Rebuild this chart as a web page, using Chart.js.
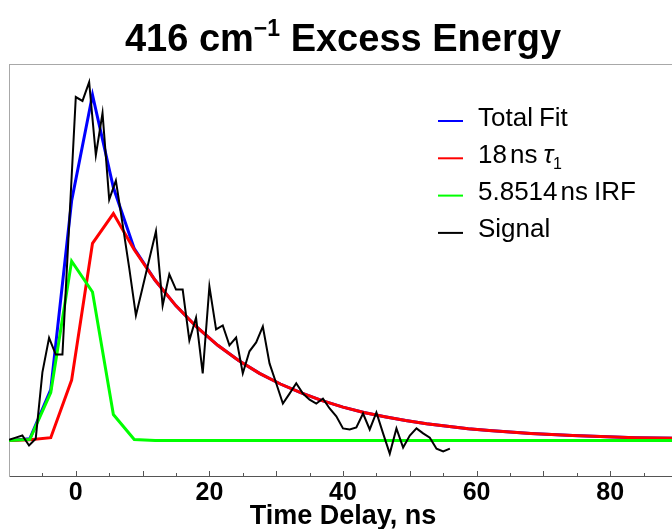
<!DOCTYPE html>
<html>
<head>
<meta charset="utf-8">
<script src="https://cdn.jsdelivr.net/npm/chart.js@4"></script>
<style>
  html, body { margin: 0; padding: 0; background: #fff; overflow: hidden; }
  canvas { display: block; }
</style>
</head>
<body>
<canvas id="decayChart" width="682" height="529"></canvas>
<script>
// signal, sampled every 1 ns
const signalTimes = [-10, -9, -8, -7, -6, -5, -4, -3, -2, -1,
  0, 1, 2, 3, 4, 5, 6, 7, 8, 9,
  10, 11, 12, 13, 14, 15, 16, 17, 18, 19,
  20, 21, 22, 23, 24, 25, 26, 27, 28, 29,
  30, 31, 32, 33, 34, 35, 36, 37, 38, 39,
  40, 41, 42, 43, 44, 45, 46, 47, 48, 49,
  50, 51, 52, 53, 54, 55, 56];
const signalValues = [0.2, 0.8, 1.4, -1.4, 0.5, 19.2, 28.9, 24.2, 24.2, 60.6,
  96.7, 95.6, 100.9, 80.3, 92.2, 67.8, 73.2, 61.0, 48.5, 35.2,
  43.1, 51.0, 58.9, 38.0, 46.8, 42.5, 42.5, 28.2, 34.6, 18.9,
  43.4, 31.3, 32.4, 26.8, 29.0, 18.9, 25.1, 27.6, 32.1, 21.7,
  16.1, 10.4, 13.2, 16.1, 13.2, 11.5, 10.4, 11.8, 9.0, 6.8,
  3.4, 3.1, 3.7, 7.6, 3.1, 7.9, 2.0, -3.7, 3.4, -2.0,
  1.4, 3.4, 2.0, 0.8, -2.3, -3.1, -2.3];

// fit curves, sampled every 3.125 ns
const fitTimes = [-10, -6.875, -3.75, -0.625, 2.5, 5.625, 8.75, 11.875, 15, 18.125,
  21.25, 24.375, 27.5, 30.625, 33.75, 36.875, 40, 43.125, 46.25, 49.375,
  52.5, 55.625, 58.75, 61.875, 65, 68.125, 71.25, 74.375, 77.5, 80.625,
  83.75, 86.875, 90];
const tau1Values = [0, 0.2, 0.8, 17.0, 55.5, 63.9, 53.7, 45.1, 37.9, 31.9,
  26.8, 22.5, 18.9, 15.9, 13.4, 11.2, 9.4, 7.9, 6.7, 5.6,
  4.7, 4.0, 3.3, 2.8, 2.4, 2.0, 1.7, 1.4, 1.2, 1.0,
  0.8, 0.7, 0.6];
const irfValues = [0, 0.3, 13.5, 50.5, 41.8, 7.3, 0.3, 0, 0, 0,
  0, 0, 0, 0, 0, 0, 0, 0, 0, 0,
  0, 0, 0, 0, 0, 0, 0, 0, 0, 0,
  0, 0, 0];
const totalFitValues = [0, 0.5, 14.3, 67.5, 97.3, 71.2, 54.0, 45.1, 37.9, 31.9,
  26.8, 22.5, 18.9, 15.9, 13.4, 11.2, 9.4, 7.9, 6.7, 5.6,
  4.7, 4.0, 3.3, 2.8, 2.4, 2.0, 1.7, 1.4, 1.2, 1.0,
  0.8, 0.7, 0.6];

const xTickLabels = [0, 20, 40, 60, 80];
const seriesNames = ["Total Fit", "18 ns τ1", "5.8514 ns IRF", "Signal"];

const FONT = "'Liberation Sans', Arial, sans-serif";

function pairs(xs, ys) {
  return xs.map((x, i) => ({ x: x, y: ys[i] }));
}

// title with a superscript, drawn by hand
const titlePlugin = {
  id: "titleText",
  afterDraw(chart) {
    const ctx = chart.ctx;
    const area = chart.chartArea;
    const parts = [
      { t: "416 cm", size: 38, dy: 0 },
      { t: "\u22121", size: 23, dy: -15 },
      { t: " Excess Energy", size: 38, dy: 0 },
    ];
    ctx.save();
    ctx.fillStyle = "#000";
    ctx.textBaseline = "alphabetic";
    let total = 0;
    parts.forEach((p) => {
      ctx.font = "bold " + p.size + "px " + FONT;
      p.w = ctx.measureText(p.t).width;
      total += p.w;
    });
    let x = (area.left + area.right) / 2 - total / 2;
    parts.forEach((p) => {
      ctx.font = "bold " + p.size + "px " + FONT;
      ctx.fillText(p.t, x, 51 + p.dy);
      x += p.w;
    });
    ctx.restore();
  },
};

// top border and inward ticks on the bottom axis
const framePlugin = {
  id: "frame",
  afterDraw(chart) {
    const ctx = chart.ctx;
    const area = chart.chartArea;
    const xs = chart.scales.x;
    ctx.save();
    ctx.strokeStyle = "#a8a8a8";
    ctx.lineWidth = 1;
    ctx.beginPath();
    ctx.moveTo(area.left, area.top + 0.5);
    ctx.lineTo(area.right, area.top + 0.5);
    ctx.stroke();
    ctx.strokeStyle = "#555";
    for (let v = -5; v <= 85; v += 5) {
      const px = Math.round(xs.getPixelForValue(v)) + 0.5;
      const len = v % 10 === 0 ? 5 : 3;
      ctx.beginPath();
      ctx.moveTo(px, area.bottom);
      ctx.lineTo(px, area.bottom - len);
      ctx.stroke();
    }
    ctx.restore();
  },
};

// legend with italic tau, subscript and thin spaces
const legendPlugin = {
  id: "legendBox",
  afterDraw(chart) {
    const ctx = chart.ctx;
    const colors = chart.data.datasets.map((d) => d.borderColor);
    const size = 26;
    ctx.save();
    ctx.textBaseline = "alphabetic";
    ctx.fillStyle = "#000";
    seriesNames.forEach((name, i) => {
      const y = 121 + i * 37.3;
      ctx.strokeStyle = colors[i];
      ctx.lineWidth = 2;
      ctx.beginPath();
      ctx.moveTo(438, y);
      ctx.lineTo(463, y);
      ctx.stroke();
      const base = y + 4.5;
      let x = 478;
      const words = name.split(" ");
      words.forEach((w, k) => {
        if (w === "τ1") {
          ctx.font = "italic " + size + "px " + FONT;
          ctx.fillText("τ", x, base);
          x += ctx.measureText("τ").width;
          ctx.font = "16px " + FONT;
          ctx.fillText("1", x, base + 6);
          return;
        }
        ctx.font = size + "px " + FONT;
        ctx.fillText(w, x, base);
        x += ctx.measureText(w).width;
        // thin gap between a number and its unit
        x += /^[0-9.]+$/.test(w) ? 3 : 6;
      });
    });
    ctx.restore();
  },
};

const ctx = document.getElementById("decayChart").getContext("2d");

const config = {
  type: "line",
  data: {
    datasets: [
      {
        label: seriesNames[0],
        data: pairs(fitTimes, totalFitValues),
        borderColor: "#0000ff",
        borderWidth: 3,
        order: 3,
      },
      {
        label: seriesNames[1],
        data: pairs(fitTimes, tau1Values),
        borderColor: "#ff0000",
        borderWidth: 3,
        order: 2,
      },
      {
        label: seriesNames[2],
        data: pairs(fitTimes, irfValues),
        borderColor: "#00ff00",
        borderWidth: 3,
        order: 1,
      },
      {
        label: seriesNames[3],
        data: pairs(signalTimes, signalValues),
        borderColor: "#000000",
        borderWidth: 2,
        order: 0,
      },
    ],
  },
  options: {
    responsive: false,
    animation: false,
    devicePixelRatio: 1,
    layout: { padding: { left: 9, right: 5, top: 64, bottom: 0 } },
    elements: {
      point: { radius: 0 },
      line: { tension: 0, fill: false, borderJoinStyle: "miter" },
    },
    plugins: {
      legend: { display: false },
      title: { display: false },
      tooltip: { enabled: false },
    },
    scales: {
      x: {
        type: "linear",
        min: -10,
        max: 90,
        grid: { display: false, drawTicks: false },
        border: { display: true, color: "#555", width: 1 },
        afterBuildTicks: (axis) => {
          axis.ticks = xTickLabels.map((v) => ({ value: v }));
        },
        ticks: {
          color: "#000",
          padding: 5,
          maxRotation: 0,
          font: { family: FONT, size: 25, weight: "bold", lineHeight: 1 },
        },
        title: {
          display: true,
          text: "Time Delay, ns",
          color: "#000",
          padding: { top: -7.5, bottom: -1.5 },
          font: { family: FONT, size: 27, weight: "bold", lineHeight: 1 },
        },
      },
      y: {
        type: "linear",
        min: -10,
        max: 106,
        grid: { display: false, drawTicks: false },
        border: { display: true, color: "#a8a8a8", width: 1 },
        ticks: { display: false },
      },
    },
  },
  plugins: [titlePlugin, framePlugin, legendPlugin],
};

const decayChart = new Chart(ctx, config);
</script>
</body>
</html>
